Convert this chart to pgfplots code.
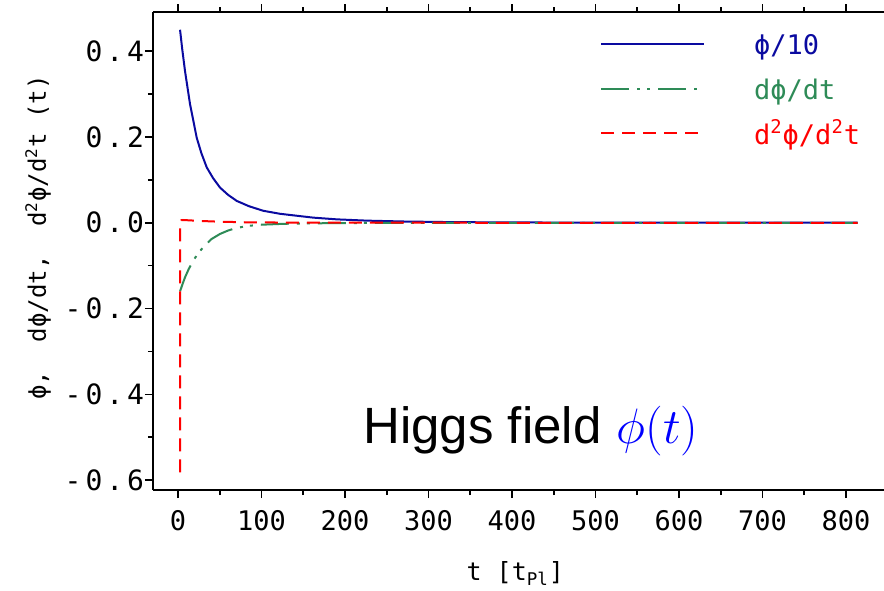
\documentclass[border=0pt]{standalone}
\usepackage{fontspec}
\usepackage{pgfplots}
\pgfplotsset{compat=1.18}
\setmainfont{DejaVu Sans Mono}
\newfontfamily\ytickfont[LetterSpace=14]{DejaVu Sans Mono}
\newfontfamily\arialfont{Liberation Sans}
\definecolor{cblue}{HTML}{0A0AA0}
\definecolor{cgreen}{HTML}{2E8B57}
\definecolor{cred}{HTML}{FF0000}
\definecolor{phiblue}{HTML}{0000FF}
\newcommand{\lph}{\vphantom{d\textsuperscript{2}ϕ}}
\begin{document}
\begin{tikzpicture}
\path[use as bounding box] (-76.5pt,-50pt) rectangle (365.5pt,245pt);
\clip (-76.5pt,-50pt) rectangle (365.5pt,245pt);
\begin{axis}[
  at={(0pt,0pt)}, anchor=south west,
  scale only axis, width=373.5pt, height=239pt,
  xmin=-30, xmax=864.7, ymin=-0.623, ymax=0.4914,
  axis x line*=box, axis y line*=left,
  axis line style={line width=1pt, black},
  tick align=outside,
  xtick={0,100,...,800}, xticklabels={0,100,200,300,400,500,600,700,800},
  ytick={-0.6,-0.4,-0.2,0,0.2,0.4}, yticklabels={-0.6,-0.4,-0.2,0.0,0.2,0.4},
  minor x tick num=1, minor y tick num=1,
  major tick length=4pt, minor tick length=2.5pt,
  every tick/.style={black, line width=0.8pt},
  xticklabel style={font=\fontsize{13.5}{16}\selectfont, yshift=-2.5pt},
  yticklabel style={font=\fontsize{14}{16}\selectfont\ytickfont, xshift=3pt},
  xlabel={t\ [t\textsubscript{Pl}]},
  ylabel={ϕ,\ \ dϕ/dt,\ \ d\textsuperscript{2}ϕ/d\textsuperscript{2}t\ (t)},
  every axis x label/.style={at={(axis description cs:0.485,-0.174)}, anchor=center, font=\fontsize{12.5}{15}\selectfont},
  every axis y label/.style={at={(axis description cs:-0.154,0.528)}, rotate=90, anchor=center, font=\fontsize{12}{15}\selectfont},
  legend style={draw=none, fill=none, at={(axis description cs:0.598,0.972)}, anchor=north west, inner sep=0pt, row sep=4.75pt, font=\fontsize{13.5}{16}\selectfont},
  legend cell align=left,
  legend image code/.code={\draw[#1, line width=1pt] (0pt,0pt) -- (51.5pt,0pt); \path[draw=none, fill=none] (0pt,0pt) -- (74.5pt,0pt);},
]
\addplot[cblue, line width=1pt] coordinates {
(2.4,0.450) (5,0.405) (8.4,0.353) (14.4,0.276) (22.4,0.198) (28,0.162) (34.4,0.129)
(42,0.104) (50.3,0.082) (60,0.065) (70.3,0.051) (85,0.0386) (102,0.028) (122,0.021)
(144,0.016) (162,0.012) (190,0.008) (226,0.005) (270,0.003) (330,0.0015) (400,0.0008)
(500,0.0004) (600,0.0002) (700,0.0001) (814,0.0001)};
\addlegendentry{\lph\textcolor{cblue}{ϕ/10}}
\addplot[cgreen, line width=1pt, dash pattern=on 14pt off 4pt on 1.5pt off 3.5pt on 1.5pt off 4pt] coordinates {
(2.4,-0.160) (5,-0.145) (8.4,-0.127) (13,-0.107) (18.4,-0.088) (24,-0.071) (30.3,-0.057)
(40,-0.038) (50.3,-0.026) (60,-0.018) (70,-0.012) (85,-0.007) (100,-0.0045) (125,-0.0025)
(150,-0.0015) (200,-0.0006) (300,-0.0002) (400,-0.0001) (600,0) (814,0)};
\addlegendentry{\lph\textcolor{cgreen}{dϕ/dt}}
\addplot[cred, line width=1pt, dash pattern=on 6.5pt off 4pt] coordinates {
(2.4,-0.582) (2.4,-0.30) (2.4,0.000) (4,0.006) (6,0.0065) (15,0.0055) (30,0.004)
(50,0.0025) (80,0.0012) (120,0.0006) (200,0.0002) (300,0.0001) (500,0) (814,0)};
\addlegendentry{\lph\textcolor{cred}{d\textsuperscript{2}ϕ/d\textsuperscript{2}t}}
\node[anchor=base west, inner sep=0pt] at (axis cs:221.6,-0.514)
  {\fontsize{25.5}{30}\selectfont\arialfont Higgs field\hspace{0.5pt} \textcolor{phiblue}{\fontsize{23}{28}\selectfont$\phi(t)$}};
\end{axis}
\end{tikzpicture}
\end{document}
